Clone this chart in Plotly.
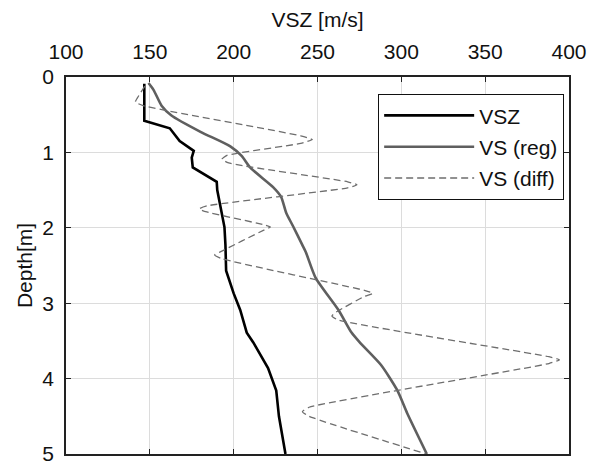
import plotly.graph_objects as go

# VSZ (black)
vsz_depth = [0.09, 0.58, 0.68, 0.77, 0.85, 0.98, 1.07, 1.2, 1.39, 1.5, 1.82, 1.99, 2.23, 2.57, 2.87, 3.09, 3.39, 3.52, 3.86, 4.16, 4.5, 5.0]
vsz_vel = [146.7, 146.7, 161.9, 164.9, 167.8, 176.2, 175.0, 175.6, 189.9, 190.2, 193.2, 194.5, 195.1, 195.5, 200.0, 203.9, 207.8, 211.7, 220.5, 225.4, 227.0, 230.9]

# VS (reg) (grey solid)
reg_depth = [0.08, 0.17, 0.38, 0.51, 0.73, 0.92, 1.05, 1.2, 1.46, 1.59, 1.8, 1.97, 2.23, 2.32, 2.66, 3.09, 3.39, 3.52, 3.82, 4.16, 4.46, 5.0]
reg_vel = [149.2, 152.2, 157.0, 162.9, 180.5, 198.0, 204.9, 209.8, 223.5, 228.3, 231.3, 235.2, 241.0, 243.0, 248.8, 262.5, 270.3, 275.2, 287.9, 297.7, 303.5, 315.2]

# VS (diff) (grey dashed)
diff_depth = [0.12, 0.28, 0.33, 0.38, 0.78, 0.83, 0.88, 1.04, 1.09, 1.14, 1.39, 1.43, 1.47, 1.71, 1.75, 1.79, 1.96, 1.99, 2.03, 2.32, 2.36, 2.41, 2.83, 2.87, 2.91, 3.12, 3.17, 3.22, 3.71, 3.75, 3.80, 4.38, 4.44, 4.50, 5.0]
diff_vel = [147.0, 142.5, 141.4, 146.0, 240.0, 246.9, 240.0, 196.0, 193.0, 197.0, 268.0, 273.5, 268.0, 184.0, 179.5, 184.0, 218.0, 221.9, 218.0, 192.0, 188.7, 193.0, 278.0, 283.0, 278.0, 261.0, 258.6, 262.0, 388.0, 394.3, 388.0, 245.0, 241.0, 245.0, 315.0]

x_ticks = [100, 150, 200, 250, 300, 350, 400]
y_ticks = [0, 1, 2, 3, 4, 5]

FONT = "Liberation Sans, Arial, sans-serif"

fig = go.Figure()
fig.add_trace(go.Scatter(x=vsz_vel, y=vsz_depth, mode="lines", name="VSZ",
                         legendgroup="a", line=dict(color="#000000", width=2.6)))
fig.add_trace(go.Scatter(x=reg_vel, y=reg_depth, mode="lines", name="VS (reg)",
                         legendgroup="b", line=dict(color="#5f5f5f", width=2.6, shape="spline", smoothing=0.6)))
fig.add_trace(go.Scatter(x=diff_vel, y=diff_depth, mode="lines", name="VS (diff)",
                         legendgroup="c", line=dict(color="#6e6e6e", width=1.3, dash="7px,4px", shape="spline", smoothing=0.5)))

fig.update_layout(
    width=598, height=476,
    margin=dict(l=66, r=20, t=77, b=11),
    paper_bgcolor="white", plot_bgcolor="white",
    font=dict(family=FONT, size=21, color="#111111"),
    showlegend=True,
    legend=dict(x=0.62, y=0.955, xanchor="left", yanchor="top",
                bgcolor="white", bordercolor="#111111", borderwidth=1.3,
                font=dict(size=21), itemwidth=90, traceorder="grouped",
                tracegroupgap=1),
    xaxis=dict(side="top", range=[100, 400], tickvals=x_ticks,
               showgrid=True, gridcolor="#dcdcdc", gridwidth=1,
               showline=True, linecolor="#222222", linewidth=1.5, mirror="allticks",
               ticks="inside", ticklen=5, tickcolor="#222222",
               zeroline=False, ticklabelstandoff=8,
               title=dict(text="VSZ [m/s]", font=dict(size=21), standoff=6)),
    yaxis=dict(range=[5, 0], tickvals=y_ticks,
               showgrid=True, gridcolor="#dcdcdc", gridwidth=1,
               showline=True, linecolor="#222222", linewidth=1.5, mirror="allticks",
               ticks="inside", ticklen=5, tickcolor="#222222",
               zeroline=False, ticklabelstandoff=6,
               title=dict(text="Depth[m]", font=dict(size=21), standoff=4)),
)

fig.write_html("out.html")
